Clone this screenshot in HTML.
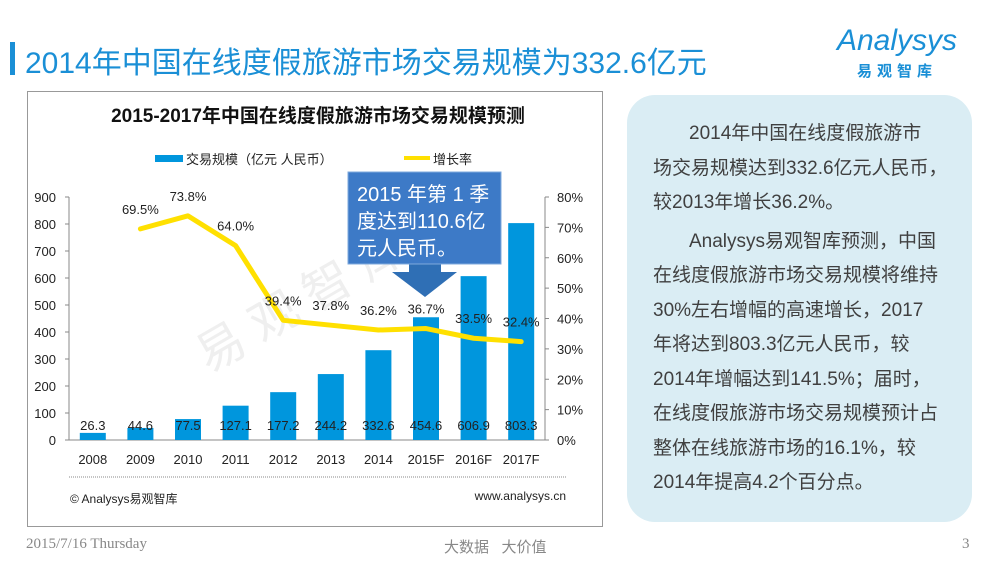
<!DOCTYPE html>
<html><head><meta charset="utf-8">
<style>
body{margin:0;width:1000px;height:563px;background:#fff;position:relative;overflow:hidden;font-family:"Liberation Sans","Noto Sans CJK SC",sans-serif}
.abs{position:absolute}
#panel{left:627px;top:95px;width:345px;height:427px;background:#daedf4;border-radius:28px}
#panel div.l{font-size:19px;height:34.5px;line-height:34.5px;color:#404040;white-space:nowrap}
</style></head><body>
<div class="abs" style="left:10px;top:42px;width:5px;height:33px;background:#1a8fd6"></div>
<div class="abs" style="left:25px;top:38px;font-size:30px;color:#1a8fd6;white-space:nowrap">2014年中国在线度假旅游市场交易规模为332.6亿元</div>
<div class="abs" style="left:822px;top:26px;width:150px;color:#1a8fd6;text-align:center">
<div style="font-size:30px;font-style:italic;line-height:30px">Analysys</div>
<div style="font-size:15px;font-weight:bold;letter-spacing:5px;margin-top:4px">易观智库</div></div>

<div class="abs" style="left:27px;top:91px;width:576px;height:436px;border:1px solid #999;box-sizing:border-box"></div>
<svg class="abs" style="left:0;top:0" width="1000" height="563" id="chart">
<text x="300" y="318" font-size="48" fill="#efefef" text-anchor="middle" transform="rotate(-30 300 300)">易 观 智 库</text>
<text x="318" y="122" font-size="19" font-weight="bold" text-anchor="middle" fill="#111">2015-2017年中国在线度假旅游市场交易规模预测</text>
<rect x="155" y="155" width="28" height="7" fill="#0096dd"/>
<text x="186" y="164" font-size="13" fill="#222">交易规模（亿元 人民币）</text>
<line x1="404" y1="158" x2="430" y2="158" stroke="#ffe000" stroke-width="4"/>
<text x="433" y="164" font-size="13" fill="#222">增长率</text>
<g id="axes"></g><g id="bars"></g><g id="line"></g>
<line x1="69" y1="477" x2="566" y2="477" stroke="#888" stroke-dasharray="1,1"/>
<text x="70" y="503" font-size="12" fill="#222">© Analysys易观智库</text>
<text x="566" y="500" font-size="12" fill="#222" text-anchor="end">www.analysys.cn</text>
<g>
<polygon points="409,263 441,263 441,272 457,272 425,297 392,272 409,272" fill="#2f6fb5"/>
<rect x="348" y="172" width="153" height="92" fill="#3d7ac7" stroke="#7ea9dc"/>
<text x="357" y="201" font-size="20" fill="#fff">2015 年第 1 季</text>
<text x="357" y="228" font-size="20" fill="#fff">度达到110.6亿</text>
<text x="357" y="255" font-size="20" fill="#fff">元人民币。</text>
</g>
</svg>

<div class="abs" id="panel">
<div style="position:absolute;left:26px;top:22px;width:310px">
<div class="l" style="padding-left:36px">2014年中国在线度假旅游市</div>
<div class="l">场交易规模达到332.6亿元人民币，</div>
<div class="l">较2013年增长36.2%。</div>
<div class="l" style="padding-left:36px;margin-top:4px">Analysys易观智库预测，中国</div>
<div class="l">在线度假旅游市场交易规模将维持</div>
<div class="l">30%左右增幅的高速增长，2017</div>
<div class="l">年将达到803.3亿元人民币，较</div>
<div class="l">2014年增幅达到141.5%；届时，</div>
<div class="l">在线度假旅游市场交易规模预计占</div>
<div class="l">整体在线旅游市场的16.1%，较</div>
<div class="l">2014年提高4.2个百分点。</div>
</div></div>

<div class="abs" style="left:26px;top:536px;font-size:15px;color:#888;font-family:'Liberation Serif',serif">2015/7/16 Thursday</div>
<div class="abs" style="left:444px;top:536px;font-size:15px;color:#888">大数据&nbsp;&nbsp;&nbsp;大价值</div>
<div class="abs" style="left:962px;top:536px;font-size:15px;color:#888;font-family:'Liberation Serif',serif">3</div>

<script>
const categories=["2008","2009","2010","2011","2012","2013","2014","2015F","2016F","2017F"];
const volumes=[26.3,44.6,77.5,127.1,177.2,244.2,332.6,454.6,606.9,803.3];
const growthCats=["2009","2010","2011","2012","2013","2014","2015F","2016F","2017F"];
const growth=[69.5,73.8,64.0,39.4,37.8,36.2,36.7,33.5,32.4];
const leftTicks=[0,100,200,300,400,500,600,700,800,900];
const rightTicks=[0,10,20,30,40,50,60,70,80];
const NS="http://www.w3.org/2000/svg";
const x0=69,x1=545,yb=440,yt=197;
const bw=(x1-x0)/categories.length;
const xc=c=>x0+bw*(categories.indexOf(c)+0.5);
const yl=v=>yb-(v/900)*(yb-yt);
const yr=v=>yb-(v/80)*(yb-yt);
function el(t,a,p,txt){const e=document.createElementNS(NS,t);for(const k in a)e.setAttribute(k,a[k]);if(txt!=null)e.textContent=txt;p.appendChild(e);return e;}
const ax=document.getElementById('axes'),bg=document.getElementById('bars'),lg=document.getElementById('line');
let e=el('line',{x1:x0,y1:yt,x2:x0,y2:yb,stroke:'#888'},ax);

e=el('line',{x1:x1,y1:yt,x2:x1,y2:yb,stroke:'#888'},ax);

e=el('line',{x1:x0,y1:yb,x2:x1,y2:yb,stroke:'#888'},ax);

leftTicks.forEach(v=>{el('line',{x1:x0-4,y1:yl(v),x2:x0,y2:yl(v),stroke:'#888'},ax);
 e=el('text',{x:56,y:yl(v)+5,'font-size':13,'text-anchor':'end',fill:'#222'},ax,v);
 });
rightTicks.forEach(v=>{el('line',{x1:x1,y1:yr(v),x2:x1+4,y2:yr(v),stroke:'#888'},ax);
 e=el('text',{x:557,y:yr(v)+5,'font-size':13,fill:'#222'},ax,v+'%');
 });
categories.forEach((c,i)=>{
 e=el('rect',{x:xc(c)-13,y:yl(volumes[i]),width:26,height:yb-yl(volumes[i]),fill:'#0096dd'},bg);
 
 e=el('text',{x:xc(c),y:yb-10,'font-size':13,'text-anchor':'middle',fill:'#222'},bg,volumes[i].toFixed(1));
 
 e=el('text',{x:xc(c),y:yb+24,'font-size':13,'text-anchor':'middle',fill:'#222'},bg,c);
 });
e=el('polyline',{points:growthCats.map((c,i)=>xc(c)+','+yr(growth[i])).join(' '),fill:'none',stroke:'#ffe000','stroke-width':5,'stroke-linejoin':'round','stroke-linecap':'round'},lg);

growthCats.forEach((c,i)=>{
 e=el('text',{x:xc(c),y:yr(growth[i])-(i<3?15:15),'font-size':13,'text-anchor':'middle',fill:'#222'},lg,growth[i].toFixed(1)+'%');
 });
</script>
</body></html>
